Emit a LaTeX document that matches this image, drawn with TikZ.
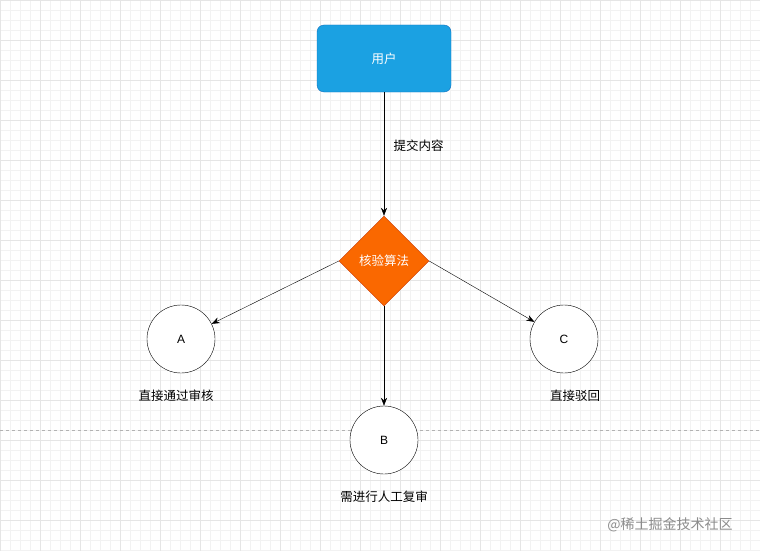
\documentclass[tikz,border=0pt]{standalone}
\usepackage{fontspec}
\setmainfont{Liberation Sans}
\newfontfamily\cjk{Noto Sans CJK SC}
\usetikzlibrary{shapes.geometric,arrows.meta}
\begin{document}
\begin{tikzpicture}[x=1pt,y=-1pt,
  circ/.style={circle,draw=black,fill=white,minimum size=68pt,inner sep=0pt,font=\fontsize{12}{14}\selectfont},
  lbl/.style={font=\cjk\fontsize{12.5}{14}\selectfont},
  arr/.style={draw=black,-{Stealth[length=8pt,width=6pt]}}]
\useasboundingbox (0,0) rectangle (760,551);
\fill[white] (0,0) rectangle (760,551);
\draw[black!5,line width=0.4pt] (0,0) grid[step=10pt] (760,551);
\draw[black!10,line width=0.5pt] (0,0) grid[step=40pt] (760,551);
\draw[black!30,dashed] (0,430) -- (760,430);
\node[draw={rgb,255:red,16;green,110;blue,190},fill={rgb,255:red,27;green,161;blue,226},rounded corners=7pt,minimum width=134pt,minimum height=67pt,text=white,lbl] (u) at (384,58.5) {用户};
\node[diamond,aspect=1,draw={rgb,255:red,199;green,53;blue,0},fill={rgb,255:red,250;green,104;blue,0},minimum size=90pt,inner sep=0pt,text=white,lbl] (d) at (384,261) {核验算法};
\node[circ] (a) at (181,339) {A};
\node[circ] (c) at (564,339) {C};
\node[circ] (b) at (384,440) {B};
\node[lbl] (la) at (176,396) {直接通过审核};
\node[lbl] (lc) at (575,396) {直接驳回};
\node[lbl] (lb) at (384,497) {需进行人工复审};
\draw[arr] (u.south) -- node[lbl,right=6pt,pos=0.43] {提交内容} (d.north);
\draw[arr] (d.west) -- (a);
\draw[arr] (d.east) -- (c);
\draw[arr] (d.south) -- (b.north);
\node[lbl,text=black!45,font=\cjk\fontsize{14}{16}\selectfont] (w) at (670,525) {@稀土掘金技术社区};
\end{tikzpicture}
\end{document}
